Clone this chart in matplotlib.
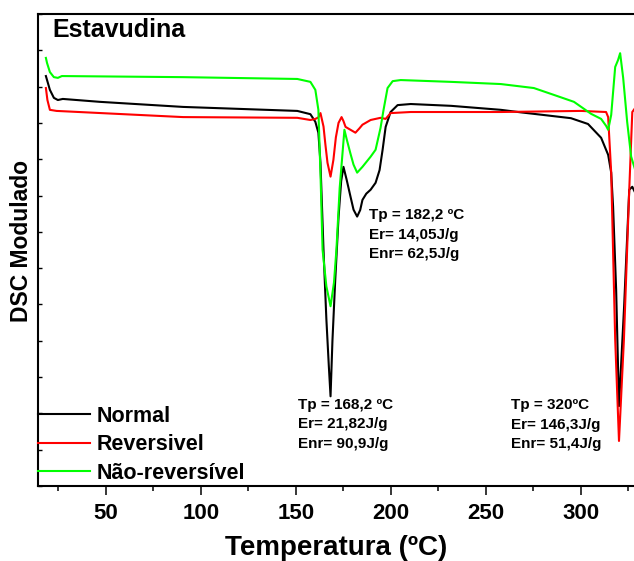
import matplotlib
matplotlib.use('Agg')
import matplotlib.pyplot as plt
from matplotlib.ticker import MultipleLocator, NullFormatter

plt.rcParams['font.family'] = ['Liberation Sans', 'DejaVu Sans']
plt.rcParams['font.weight'] = 'bold'

# modulated DSC curves for stavudine (arbitrary heat flow units)
normal_T = [18.4, 20.5, 22.6, 24.7, 27.3, 46.8, 90.6, 150.7, 157.6, 160.2, 161.8,
            162.9, 164.5, 166.0, 167.3, 168.2, 169.2, 170.6, 172.4, 173.8, 175.0,
            176.7, 178.7, 180.3, 182.2, 183.8, 185.0, 187.0, 189.3, 191.9, 194.0,
            195.6, 197.2, 199.8, 203.5, 210.4, 231.6, 257.8, 268.4, 281.6, 294.7,
            303.7, 310.6, 314.3, 315.9, 316.9, 318.5, 320.0, 322.7, 325.4, 327.0,
            328.5]
normal_Y = [10.29, 9.91, 9.69, 9.63, 9.66, 9.58, 9.44, 9.33, 9.24, 9.03, 8.73,
            7.90, 5.50, 3.60, 2.30, 1.47, 3.00, 4.60, 6.40, 7.40, 7.79,
            7.43, 6.97, 6.61, 6.42, 6.60, 6.88, 7.05, 7.16, 7.35, 7.70,
            8.26, 8.89, 9.30, 9.49, 9.52, 9.47, 9.36, 9.29, 9.21, 9.13,
            8.97, 8.59, 8.12, 7.63, 6.69, 4.41, 1.20, 3.95, 7.16, 7.24,
            7.08]

rev_T = [18.4, 19.2, 20.5, 24.0, 90.6, 150.7, 157.6, 160.2, 161.8, 162.9, 164.5,
         165.5, 166.6, 168.2, 169.7, 171.0, 172.4, 174.0, 175.0, 176.1, 178.7,
         181.3, 183.4, 185.0, 189.3, 194.5, 197.2, 199.8, 210.4, 257.8, 300.0,
         313.2, 314.3, 315.9, 318.0, 320.0, 322.6, 325.4, 327.0, 328.5]
rev_Y = [9.96, 9.63, 9.36, 9.33, 9.16, 9.14, 9.08, 9.11, 9.15, 9.27, 8.90,
         8.40, 7.90, 7.52, 7.98, 8.60, 9.00, 9.16, 9.05, 8.89, 8.81,
         8.73, 8.85, 8.95, 9.08, 9.14, 9.11, 9.27, 9.30, 9.30, 9.33,
         9.30, 9.16, 7.63, 3.04, 0.24, 3.04, 7.16, 9.30, 9.41]

nonrev_T = [18.4, 19.0, 20.5, 22.6, 24.7, 26.8, 90.6, 150.7, 157.6, 160.2, 161.8,
            163.0, 164.0, 166.0, 168.2, 170.0, 171.3, 173.0, 175.5, 176.7, 178.7,
            180.3, 182.2, 185.0, 189.3, 191.9, 194.5, 196.1, 198.2, 200.9, 205.1,
            231.6, 257.8, 275.2, 285.8, 296.3, 305.3, 310.6, 313.2, 314.3, 315.9,
            318.0, 319.5, 320.6, 322.2, 324.3, 326.4, 328.5]
nonrev_Y = [10.79, 10.65, 10.40, 10.26, 10.24, 10.29, 10.26, 10.21, 10.13, 9.91, 9.36,
            7.43, 5.51, 4.50, 3.95, 4.60, 5.51, 7.20, 8.81, 8.55, 8.15,
            7.85, 7.63, 7.79, 8.07, 8.26, 8.86, 9.36, 9.96, 10.15, 10.18,
            10.13, 10.07, 9.96, 9.77, 9.58, 9.25, 9.11, 8.92, 8.81, 9.22,
            10.54, 10.73, 10.92, 10.24, 9.03, 8.07, 7.71]

labels = ['Normal', 'Reversivel', 'Não-reversível']
colors = ['black', '#ff0000', '#00ff00']

peak_notes = [
    (188.4, 5.92, 'Tp = 182,2 ºC\nEr= 14,05J/g\nEnr= 62,5J/g'),
    (151.1, 0.70, 'Tp = 168,2 ºC\nEr= 21,82J/g\nEnr= 90,9J/g'),
    (263.2, 0.68, 'Tp = 320ºC\nEr= 146,3J/g\nEnr= 51,4J/g'),
]

fig = plt.figure(figsize=(6.34, 5.61), dpi=100)
ax = fig.add_axes([0.0607, 0.1337, 0.9393, 0.8414])

for T, Y, lab, c in zip([normal_T, rev_T, nonrev_T], [normal_Y, rev_Y, nonrev_Y],
                        labels, colors):
    ax.plot(T, Y, color=c, lw=1.5, label=lab)

ax.set_xlim(14.5, 327.9)
ax.set_ylim(-1, 12)

ax.xaxis.set_major_locator(MultipleLocator(50))
ax.xaxis.set_minor_locator(MultipleLocator(25))
ax.yaxis.set_major_locator(MultipleLocator(1))
ax.yaxis.set_major_formatter(NullFormatter())
ax.tick_params(axis='x', which='major', direction='out', length=6.5, width=1.1,
               labelsize=16, pad=6)
ax.tick_params(axis='x', which='minor', direction='out', length=3.6, width=1.1)
ax.tick_params(axis='y', which='major', direction='in', length=3, width=1.0)
for lbl in ax.get_xticklabels():
    lbl.set_fontweight('bold')

for side in ['left', 'bottom', 'top']:
    ax.spines[side].set_linewidth(1.5)
ax.spines['right'].set_visible(False)

ax.set_xlabel('Temperatura (ºC)', fontsize=20, fontweight='bold', labelpad=8)
ax.set_ylabel('DSC Modulado', fontsize=16.5, fontweight='bold')
ax.yaxis.set_label_coords(-0.009, 0.519)

fig.text(52 / 634, 1 - 37 / 561, 'Estavudina', fontsize=18, fontweight='bold',
         va='baseline', ha='left')

for x, y, s in peak_notes:
    ax.text(x, y, s, fontsize=11, fontweight='bold', ha='left', va='center',
            linespacing=1.5)

ax.legend(loc='lower left', bbox_to_anchor=(0.0, 0.005), frameon=False,
          handlelength=2.4, handletextpad=0.3, borderpad=0,
          borderaxespad=0, labelspacing=0.35, prop={'weight': 'bold', 'size': 15.5})

fig.savefig('out.png', dpi=100)
